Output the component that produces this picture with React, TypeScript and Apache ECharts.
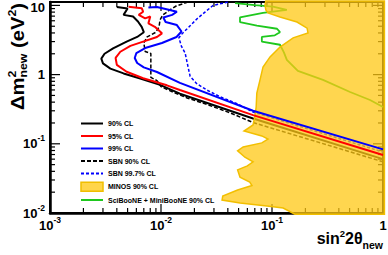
import React, { useEffect, useRef } from 'react';
import * as echarts from 'echarts';

// Axis ranges
const X_MIN = 0.001;
const X_MAX = 1;
const Y_MIN = 0.01;
const Y_MAX = 11.2;

// Tick values
const xMajorTicks = [0.001, 0.01, 0.1, 1];
const xMinorTicks = [
  0.002, 0.003, 0.004, 0.005, 0.006, 0.007, 0.008, 0.009,
  0.02, 0.03, 0.04, 0.05, 0.06, 0.07, 0.08, 0.09,
  0.2, 0.3, 0.4, 0.5, 0.6, 0.7, 0.8, 0.9,
];
const yMajorTicks = [0.01, 0.1, 1, 10];
const yMinorTicks = [
  0.02, 0.03, 0.04, 0.05, 0.06, 0.07, 0.08, 0.09,
  0.2, 0.3, 0.4, 0.5, 0.6, 0.7, 0.8, 0.9,
  2, 3, 4, 5, 6, 7, 8, 9,
];

// Series: [sin^2 2theta, dm2]
const cl90: [number, number][] = [
  [0.0040, 9.5], [0.0050, 9.0], [0.0046, 7.3], [0.0056, 6.9], [0.0062, 5.85],
  [0.0067, 4.9], [0.0070, 4.1], [0.0061, 3.5], [0.0049, 3.0], [0.0037, 2.4],
  [0.0031, 2.0], [0.0029, 1.7], [0.0030, 1.45], [0.0035, 1.22], [0.0046, 1.04],
  [0.0065, 0.88], [0.0098, 0.71], [0.0148, 0.53], [0.0675, 0.232], [1.0, 0.060],
];
const cl95: [number, number][] = [
  [0.0051, 9.6], [0.0067, 9.1], [0.0069, 8.1], [0.0063, 7.3], [0.0072, 6.5],
  [0.0080, 6.9], [0.0077, 5.5], [0.0088, 4.9], [0.0102, 3.95], [0.0092, 3.5],
  [0.0069, 3.0], [0.0053, 2.6], [0.0043, 2.14], [0.0039, 1.74], [0.0040, 1.38],
  [0.0049, 1.10], [0.0069, 0.885], [0.0113, 0.70], [0.0148, 0.60], [0.0675, 0.26],
  [1.0, 0.069],
];
const cl99: [number, number][] = [
  [0.0077, 9.3], [0.0092, 9.5], [0.0120, 8.6], [0.0139, 8.1], [0.0126, 7.3],
  [0.0105, 6.7], [0.0110, 5.75], [0.0139, 5.2], [0.0153, 4.2], [0.0138, 3.5],
  [0.0102, 2.86], [0.0072, 2.42], [0.0060, 2.05], [0.0058, 1.74], [0.0061, 1.47],
  [0.0070, 1.27], [0.0092, 1.09], [0.0148, 0.76], [0.0675, 0.30], [1.0, 0.083],
];
const sbn90: [number, number][] = [
  [0.0175, 11.2], [0.0137, 9.8], [0.0120, 8.6], [0.0104, 7.3], [0.0098, 6.15],
  [0.0096, 4.9], [0.0090, 4.1], [0.0075, 3.5], [0.0070, 2.86], [0.0072, 2.16],
  [0.0081, 2.02], [0.0081, 0.91], [0.0092, 0.82], [0.0100, 0.67], [0.0128, 0.56],
  [0.0172, 0.46], [0.026, 0.37], [0.042, 0.28], [0.0675, 0.203], [1.0, 0.055],
];
const sbn997: [number, number][] = [
  [0.040, 11.2], [0.0294, 9.97], [0.0249, 8.0], [0.0211, 6.4], [0.0179, 4.9],
  [0.0155, 3.9], [0.0145, 3.4], [0.0153, 2.55], [0.0165, 2.05], [0.0175, 1.31],
  [0.0183, 0.94], [0.0210, 0.74], [0.0258, 0.60], [0.034, 0.48], [0.0484, 0.38],
  [0.0675, 0.288], [1.0, 0.076],
];
const minos: [number, number][] = [
  [0.088, 11.6], [0.0865, 10.1], [0.088, 8.6], [0.092, 7.8], [0.118, 6.8],
  [0.168, 5.75], [0.207, 4.7], [0.211, 4.0], [0.155, 3.4], [0.118, 2.5],
  [0.096, 1.8], [0.083, 1.29], [0.078, 0.84], [0.073, 0.54], [0.072, 0.34],
  [0.070, 0.244], [0.0675, 0.187], [0.056, 0.153], [0.081, 0.130], [0.092, 0.117],
  [0.081, 0.103], [0.055, 0.090], [0.049, 0.079], [0.057, 0.064], [0.0675, 0.055],
  [0.060, 0.048], [0.049, 0.042], [0.0515, 0.033], [0.063, 0.028], [0.066, 0.025],
  [0.049, 0.0215], [0.036, 0.0176], [0.0355, 0.0154], [0.0515, 0.014], [0.090, 0.0126],
  [0.126, 0.0118], [0.161, 0.0096], [1.03, 0.0096], [1.03, 11.6],
];
const sciMini: [number, number][] = [
  [0.0465, 10.8], [0.070, 10.1], [0.102, 9.6], [0.136, 8.6], [0.083, 7.8],
  [0.0515, 6.7], [0.0515, 5.75], [0.073, 5.1], [0.111, 4.6], [0.118, 4.1],
  [0.106, 3.7], [0.081, 3.5], [0.081, 3.0], [0.118, 2.7], [0.128, 2.1],
  [0.136, 1.63], [0.171, 1.13], [0.288, 0.84], [0.505, 0.56], [0.764, 0.43],
  [1.0, 0.34],
];

const legendNames = [
  '90% CL', '95% CL', '99% CL', 'SBN 90% CL', 'SBN 99.7% CL',
  'MINOS 90% CL', 'SciBooNE + MiniBooNE 90% CL',
];

const FONT = '"Liberation Sans", Arial, Helvetica, sans-serif';

function measure(text: string, size: number): number {
  const c = document.createElement('canvas').getContext('2d');
  if (!c) return text.length * size * 0.55;
  c.font = `bold ${size}px ${FONT}`;
  return c.measureText(text).width;
}

type Piece = { text: string; size: number; dy: number; stackWith?: Piece };

function buildPieces(pieces: Piece[]) {
  const out: any[] = [];
  let x = 0;
  for (const p of pieces) {
    const w1 = measure(p.text, p.size);
    out.push({ text: p.text, size: p.size, dy: p.dy, x });
    let w = w1;
    if (p.stackWith) {
      const w2 = measure(p.stackWith.text, p.stackWith.size);
      out.push({ text: p.stackWith.text, size: p.stackWith.size, dy: p.stackWith.dy, x });
      w = Math.max(w1, w2);
    }
    x += w;
  }
  return { items: out, width: x };
}

function textEl(it: any) {
  return {
    type: 'text',
    x: it.x,
    y: it.dy,
    silent: true,
    style: {
      text: it.text,
      fontSize: it.size,
      fontWeight: 'bold',
      fontFamily: FONT,
      fill: '#000',
      textAlign: 'left',
      align: 'left',
      textVerticalAlign: 'middle',
      verticalAlign: 'middle',
    },
  };
}

function expLabel(v: number): string {
  const e = Math.round(Math.log10(v));
  if (e === 0) return '{b|1}';
  if (e === 1) return '{t|10}';
  return `{b|10}{s|${e}}`;
}

const richLabel = {
  b: { fontSize: 13, fontWeight: 'bold', fontFamily: FONT, color: '#000', lineHeight: 20 },
  t: { fontSize: 13, fontWeight: 'bold', fontFamily: FONT, color: '#000', lineHeight: 11, padding: [5, 0, 0, 0] },
  s: { fontSize: 8.5, fontWeight: 'bold', fontFamily: FONT, color: '#000', lineHeight: 11, verticalAlign: 'top' },
};

export default function App() {
  const ref = useRef<HTMLDivElement>(null);

  useEffect(() => {
    document.body.style.margin = '0';
    if (!ref.current) return;
    const chart = echarts.init(ref.current, undefined, { renderer: 'svg' });

    const yTitle = buildPieces([
      { text: 'Δm', size: 18, dy: 0 },
      { text: '2', size: 11, dy: -6, stackWith: { text: 'new', size: 11, dy: 5 } },
      { text: ' (eV', size: 18, dy: 0 },
      { text: '2', size: 11, dy: -6 },
      { text: ')', size: 18, dy: 0 },
    ]);
    const yScale = 107 / yTitle.width;

    const xTitle = buildPieces([
      { text: 'sin', size: 16, dy: 0 },
      { text: '2', size: 9.5, dy: -5 },
      { text: '2θ', size: 16, dy: 0 },
      { text: 'new', size: 10.5, dy: 7 },
    ]);

    const lineSeries = (name: string, data: [number, number][], color: string, width: number, dash: any, z: number) => ({
      name,
      type: 'line',
      data,
      z,
      symbol: 'none',
      showSymbol: false,
      silent: true,
      clip: true,
      lineStyle: { color, width, type: dash },
      itemStyle: { color },
      emphasis: { disabled: true },
    });

    const option: any = {
      animation: false,
      grid: {
        left: 50, right: 5, top: 2, bottom: 42,
        show: true, borderColor: '#000', borderWidth: 2, backgroundColor: 'transparent',
        containLabel: false, outerBoundsMode: 'none',
      },
      xAxis: {
        type: 'log', logBase: 10, min: X_MIN, max: X_MAX,
        axisLine: { show: true, lineStyle: { color: '#000', width: 2.5 } },
        axisTick: { show: false },
        splitLine: { show: false },
        axisLabel: { margin: 2, formatter: expLabel, rich: richLabel },
      },
      yAxis: {
        type: 'log', logBase: 10, min: Y_MIN, max: Y_MAX,
        axisLine: { show: true, lineStyle: { color: '#000', width: 2.5 } },
        axisTick: { show: false },
        splitLine: { show: false },
        axisLabel: { margin: 5, formatter: expLabel, rich: richLabel, showMaxLabel: false },
      },
      legend: {
        orient: 'vertical',
        left: 75, top: 114,
        itemWidth: 22, itemHeight: 9, itemGap: 3.5,
        selectedMode: false,
        textStyle: { fontSize: 7, fontWeight: 'bold', fontFamily: FONT, color: '#000', lineHeight: 9 },
        itemStyle: { opacity: 0 },
        data: legendNames.map((n) =>
          n === 'MINOS 90% CL'
            ? { name: n, icon: 'rect', itemStyle: { color: '#ffd54a', borderColor: '#f0be00', borderWidth: 1.5, opacity: 1 } }
            : { name: n }
        ),
      },
      graphic: [
        {
          type: 'group',
          x: 17.5, y: 110,
          rotation: Math.PI / 2,
          scaleX: yScale,
          children: yTitle.items.map(textEl),
        },
        {
          type: 'group',
          x: 383 - xTitle.width, y: 238,
          children: xTitle.items.map(textEl),
        },
      ],
      series: [
        {
          name: 'ticks',
          type: 'custom',
          z: 1,
          silent: true,
          data: [[X_MIN, Y_MIN]],
          renderItem: (_p: any, api: any) => {
            const bl = api.coord([X_MIN, Y_MIN]);
            const tr = api.coord([X_MAX, Y_MAX]);
            const left = bl[0], bottom = bl[1], right = tr[0], top = tr[1];
            const st = { stroke: '#000', lineWidth: 1.2 };
            const ch: any[] = [];
            const addX = (v: number, len: number) => {
              const px = api.coord([v, Y_MIN])[0];
              ch.push({ type: 'line', shape: { x1: px, y1: bottom, x2: px, y2: bottom - len }, style: st });
              ch.push({ type: 'line', shape: { x1: px, y1: top, x2: px, y2: top + len }, style: st });
            };
            const addY = (v: number, len: number) => {
              const py = api.coord([X_MIN, v])[1];
              ch.push({ type: 'line', shape: { x1: left, y1: py, x2: left + len, y2: py }, style: st });
              ch.push({ type: 'line', shape: { x1: right, y1: py, x2: right - len, y2: py }, style: st });
            };
            xMajorTicks.forEach((v) => addX(v, 9));
            xMinorTicks.forEach((v) => addX(v, 5));
            yMajorTicks.forEach((v) => addY(v, 10));
            yMinorTicks.forEach((v) => addY(v, 5));
            return { type: 'group', children: ch };
          },
        },
        lineSeries('90% CL', cl90, '#000000', 2, 'solid', 2),
        lineSeries('SBN 90% CL', sbn90, '#000000', 1.5, [4, 2], 2),
        lineSeries('SBN 99.7% CL', sbn997, '#0000ff', 1.5, [3, 2], 2),
        lineSeries('SciBooNE + MiniBooNE 90% CL', sciMini, '#1ec81e', 1.8, 'solid', 2),
        {
          name: 'MINOS 90% CL',
          type: 'custom',
          z: 3,
          silent: true,
          itemStyle: { color: '#ffd54a', borderColor: '#f0be00', borderWidth: 1.5 },
          data: [[X_MIN, Y_MIN]],
          renderItem: (_p: any, api: any) => ({
            type: 'polygon',
            shape: { points: minos.map((p) => api.coord(p)) },
            style: { fill: 'rgba(255,200,20,0.75)', stroke: '#f2bf00', lineWidth: 1.5 },
          }),
        },
        lineSeries('95% CL', cl95, '#ff0000', 2, 'solid', 4),
        lineSeries('99% CL', cl99, '#0000ff', 2, 'solid', 4),
      ],
    };

    chart.setOption(option);
    return () => chart.dispose();
  }, []);

  return (
    <div
      ref={ref}
      style={{ position: 'fixed', left: 0, top: 0, width: 388, height: 255, background: '#fff' }}
    />
  );
}
